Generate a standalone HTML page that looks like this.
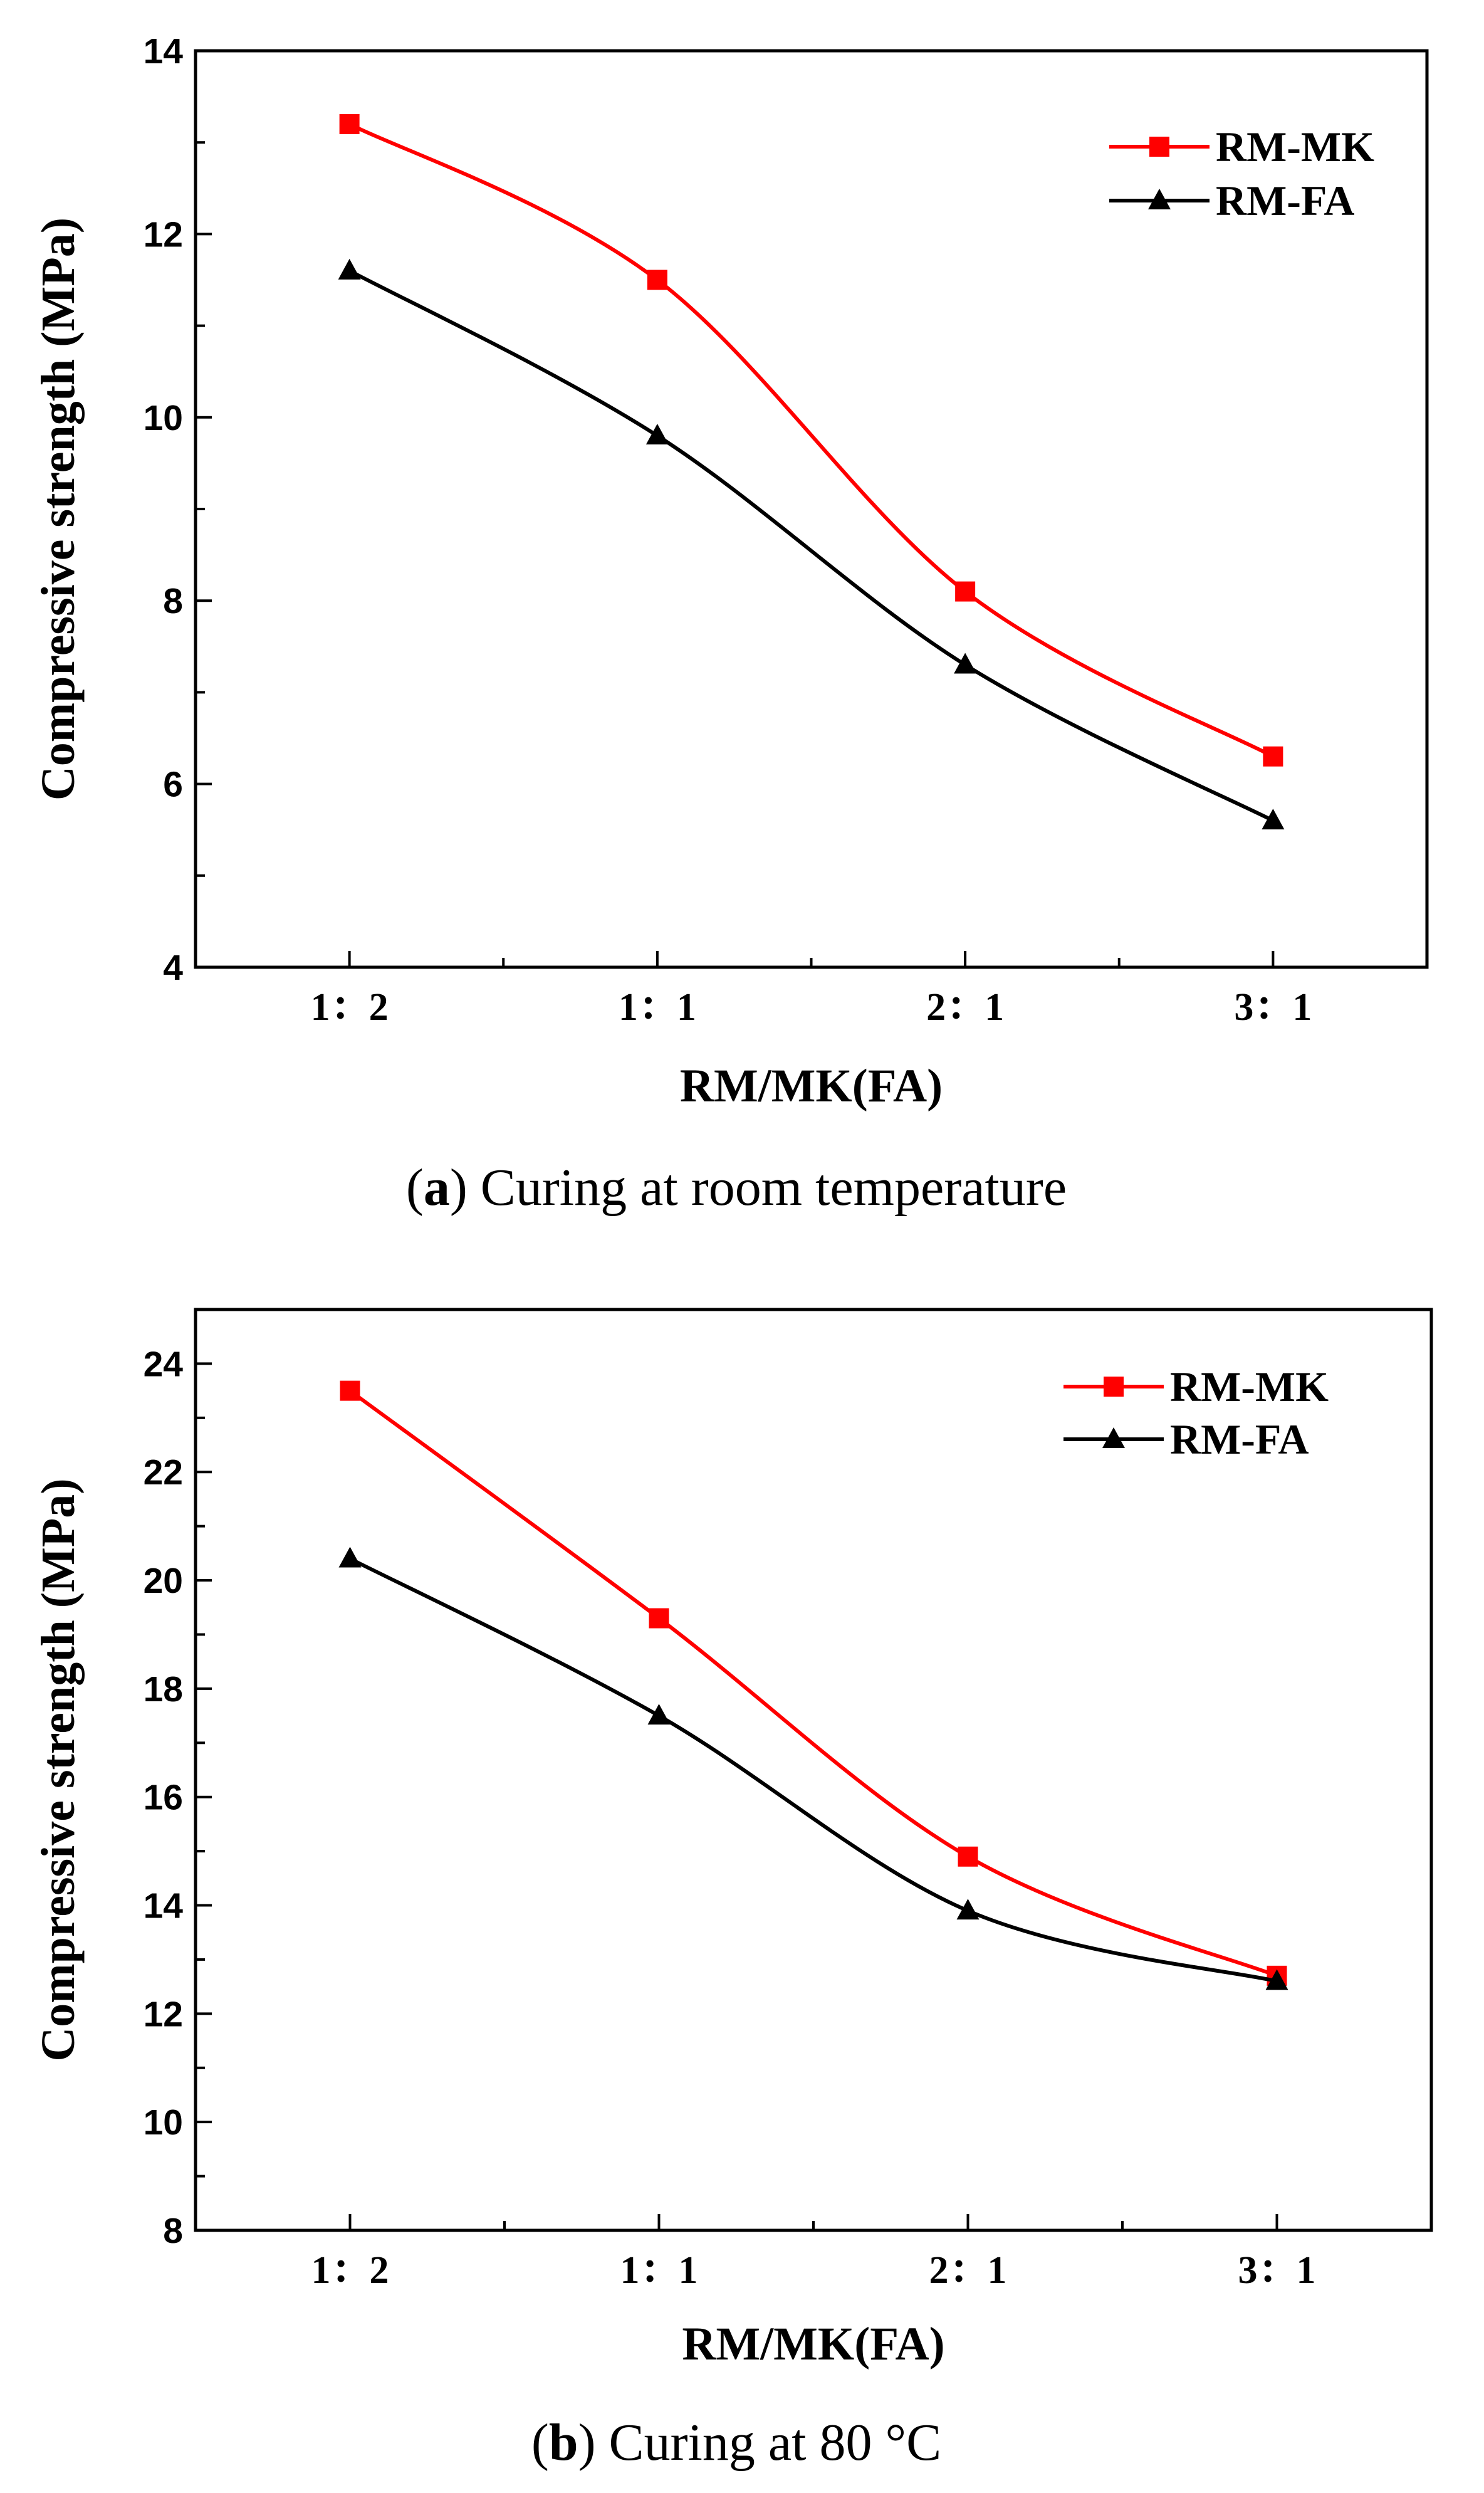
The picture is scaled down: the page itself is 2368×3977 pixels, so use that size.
<!DOCTYPE html>
<html><head><meta charset="utf-8"><style>
html,body{margin:0;padding:0;background:#fff;}
svg{display:block;}
</style></head><body>
<svg id="fig" width="2368" height="3977" viewBox="0 0 2368 3977" xmlns="http://www.w3.org/2000/svg"></svg>
<script>
const categories = ["1：2","1：1","2：1","3：1"];
const mkRoom = [13.2, 11.5, 8.1, 6.3];
const faRoom = [11.6, 9.8, 7.3, 5.6];
const mk80 = [23.5, 19.3, 14.9, 12.7];
const fa80 = [20.4, 17.5, 13.9, 12.6];
const yTicksRoom = [4, 6, 8, 10, 12, 14];
const yTicks80 = [8, 10, 12, 14, 16, 18, 20, 22, 24];

const NS = "http://www.w3.org/2000/svg";
const svg = document.getElementById("fig");
function mk(tag, attrs, parent){
  const e = document.createElementNS(NS, tag);
  for (const k in attrs) e.setAttribute(k, attrs[k]);
  (parent||svg).appendChild(e);
  return e;
}
function smoothPath(pts){
  let d = "M" + pts[0][0] + "," + pts[0][1];
  for (let i=0;i<pts.length-1;i++){
    const p0 = pts[Math.max(0,i-1)], p1 = pts[i], p2 = pts[i+1], p3 = pts[Math.min(pts.length-1,i+2)];
    const c1x = p1[0] + (p2[0]-p0[0])/6, c1y = p1[1] + (p2[1]-p0[1])/6;
    const c2x = p2[0] - (p3[0]-p1[0])/6, c2y = p2[1] - (p3[1]-p1[1])/6;
    d += " C" + c1x + "," + c1y + " " + c2x + "," + c2y + " " + p2[0] + "," + p2[1];
  }
  return d;
}
function chart(cfg){
  const g = mk("g", {});
  
  
  const L=cfg.left, R=cfg.right, T=cfg.top, B=cfg.bottom;
  const n = categories.length;
  const xs = i => L + (i + 0.5) * (R - L) / n;
  const ys = v => B - (v - cfg.ymin) / (cfg.ymax - cfg.ymin) * (B - T);
  const frame = mk("rect", {x:L, y:T, width:R-L, height:B-T, fill:"none", stroke:"#000", "stroke-width":5}, g);
  
  
  cfg.yticks.forEach((v) => {
    const y = ys(v);
    const t = mk("line", {x1:L, x2:L+26, y1:y, y2:y, stroke:"#000", "stroke-width":4}, g);
    
    
    const lab = mk("text", {x:L-20, y:y+20, "text-anchor":"end", "font-family":"Liberation Sans, sans-serif", "font-weight":"bold", "font-size":57}, g);
    lab.textContent = v;
    
    
    const ym = ys(v+1);
    if (ym > T) {
      const m = mk("line", {x1:L, x2:L+15, y1:ym, y2:ym, stroke:"#000", "stroke-width":4}, g);
      
      
    }
  });
  categories.forEach((c, i) => {
    const x = xs(i);
    const t = mk("line", {x1:x, x2:x, y1:B, y2:B-26, stroke:"#000", "stroke-width":4}, g);
    
    
    if (i < n-1) {
      const xm = (x + xs(i+1))/2;
      const m = mk("line", {x1:xm, x2:xm, y1:B, y2:B-15, stroke:"#000", "stroke-width":4}, g);
      
      
    }
    const lab = mk("text", {x:x, y:B+84, "text-anchor":"middle", "font-family":"Liberation Serif, Noto Serif CJK SC, serif", "font-weight":"bold", "font-size":62}, g);
    lab.textContent = c;
    
    
  });
  const series = [
    {vals:cfg.mk, color:"#f00", marker:"square", name:"rm-mk"},
    {vals:cfg.fa, color:"#000", marker:"triangle", name:"rm-fa"}
  ];
  series.forEach(s => {
    const pts = s.vals.map((v,i)=>[xs(i), ys(v)]);
    const p = mk("path", {d:smoothPath(pts), fill:"none", stroke:s.color, "stroke-width":6}, g);
    
    
    pts.forEach(pt => {
      let m;
      if (s.marker === "square") m = mk("rect", {x:pt[0]-16, y:pt[1]-16, width:32, height:32, fill:"#f00"}, g);
      else m = mk("polygon", {points:(pt[0])+","+(pt[1]-19)+" "+(pt[0]-18)+","+(pt[1]+14)+" "+(pt[0]+18)+","+(pt[1]+14), fill:"#000"}, g);
      
      
    });
  });
  const lg = mk("g", {}, g);
  
  
  [[cfg.legY1,"#f00","square","RM-MK"],[cfg.legY2,"#000","triangle","RM-FA"]].forEach(e => {
    const ln = mk("line", {x1:cfg.legX, x2:cfg.legX+160, y1:e[0], y2:e[0], stroke:e[1], "stroke-width":6}, lg);
    
    
    const cx = cfg.legX+80;
    let m;
    if (e[2]==="square") m = mk("rect", {x:cx-16, y:e[0]-16, width:32, height:32, fill:"#f00"}, lg);
    else m = mk("polygon", {points:cx+","+(e[0]-19)+" "+(cx-18)+","+(e[0]+14)+" "+(cx+18)+","+(e[0]+14), fill:"#000"}, lg);
    
    
    const tx = mk("text", {x:cfg.legX+170, y:e[0]+23, "font-family":"Liberation Serif, serif", "font-weight":"bold", "font-size":68}, lg);
    tx.textContent = e[3];
    
    
  });
  const xt = mk("text", {x:(L+R)/2, y:cfg.xTitleY, "text-anchor":"middle", "font-family":"Liberation Serif, serif", "font-weight":"bold", "font-size":75}, g);
  xt.textContent = "RM/MK(FA)";
  
  
  const cy = (T+B)/2;
  const yt = mk("text", {x:0, y:0, transform:"translate(118,"+cy+") rotate(-90)", "text-anchor":"middle", "font-family":"Liberation Serif, serif", "font-weight":"bold", "font-size":76}, g);
  yt.textContent = "Compressive strength (MPa)";
  
  
  const cap = mk("text", {x:cfg.capX, y:cfg.capY, "text-anchor":"middle", "font-family":"Liberation Serif, serif", "font-size":84}, g);
  const b1 = mk("tspan", {}, cap); b1.textContent = "(";
  const b2 = mk("tspan", {"font-weight":"bold"}, cap); b2.textContent = cfg.letter;
  const b3 = mk("tspan", {}, cap); b3.textContent = ") " + cfg.caption;
  
  
}
chart({name:"chart-room-temperature", left:312, right:2277, top:81, bottom:1543, ymin:4, ymax:14, yticks:yTicksRoom,
  mk:mkRoom, fa:faRoom, legX:1770, legY1:234, legY2:320, xTitleY:1757, capX:1175, capY:1922, letter:"a", caption:"Curing at room temperature"});
chart({name:"chart-80c", left:312, right:2284, top:2089, bottom:3558, ymin:8, ymax:25, yticks:yTicks80,
  mk:mk80, fa:fa80, legX:1697, legY1:2212, legY2:2296, xTitleY:3764, capX:1175, capY:3924, letter:"b", caption:"Curing at 80 °C"});
</script>
</body></html>
